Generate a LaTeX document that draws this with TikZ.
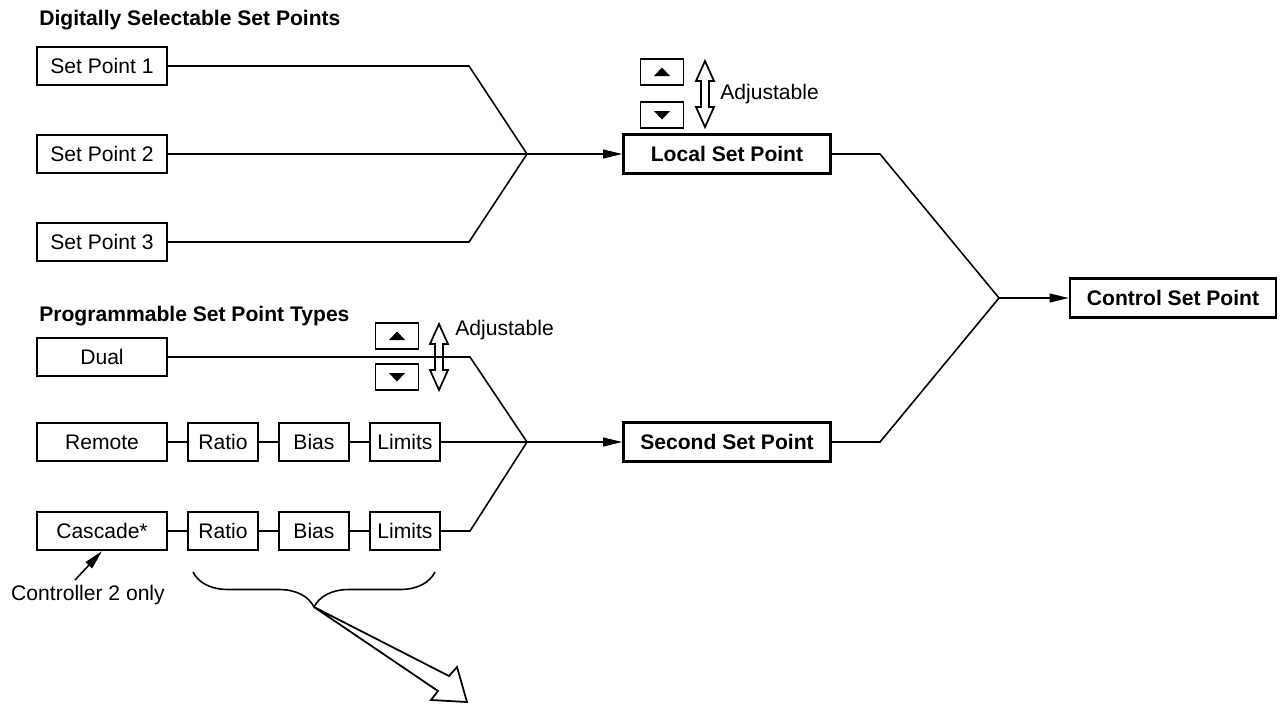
\documentclass[tikz,border=0pt]{standalone}
\usepackage{fontspec}
\setmainfont{Liberation Sans}
\usetikzlibrary{arrows.meta,decorations.pathreplacing}

\newcommand\labelfont{\fontsize{12}{14}\selectfont}

\tikzset{
  box/.style={draw, line width=1.3pt, minimum height=0.76cm, inner sep=2pt},
  spbox/.style={box, minimum width=2.6cm},
  sbox/.style={box, minimum width=1.4cm},
  mainbox/.style={box, minimum width=4.14cm, minimum height=0.78cm, font=\labelfont\bfseries},
  wire/.style={line width=0.9pt},
  feed/.style={wire, -{Triangle[length=11pt,width=5pt]}},
  btn/.style={draw, line width=1.1pt, minimum width=0.86cm, minimum height=0.52cm, inner sep=0pt},
  btnup/.style={btn, path picture={\fill ([shift={(-0.16cm,-0.08cm)}]path picture bounding box.center)
      -- ++(0.32cm,0) -- ++(-0.16cm,0.17cm) -- cycle;}},
  btndown/.style={btn, path picture={\fill ([shift={(-0.16cm,0.08cm)}]path picture bounding box.center)
      -- ++(0.32cm,0) -- ++(-0.16cm,-0.17cm) -- cycle;}},
  adjust/.pic={\draw[line width=1pt] (0,-33) -- (9,-13) -- (4,-13) -- (4,13) -- (9,13) -- (0,33)
      -- (-9,13) -- (-4,13) -- (-4,-13) -- (-9,-13) -- cycle;},
  title/.style={anchor=west, inner sep=0pt, font=\labelfont\bfseries}
}

\begin{document}
\begin{tikzpicture}[x=0.02cm, y=-0.02cm, font=\labelfont]
  \useasboundingbox (0,0) rectangle (1284,704);

  % digital set points
  \node[title] (dtitle) at (39,20) {Digitally Selectable Set Points};
  \node[spbox] (sp1) at (102,66) {Set Point 1};
  \node[spbox] (sp2) at (102,154) {Set Point 2};
  \node[spbox] (sp3) at (102,242) {Set Point 3};
  \coordinate (j1) at (527,154);
  \node[mainbox] (local) at (727,154) {Local Set Point};
  \draw[wire] (sp1.east) -- (469,66) -- (j1);
  \draw[wire] (sp2.east) -- (j1);
  \draw[wire] (sp3.east) -- (469,242) -- (j1);
  \draw[feed] (j1) -- (local.west);

  \node[btnup] (up1) at (662,72) {};
  \node[btndown] (down1) at (662,115) {};
  \pic (adj1) at (705,94) {adjust};
  \node[anchor=west, inner sep=0pt] (adjtext1) at (720,94) {Adjustable};

  % programmable set points
  \node[title] (ptitle) at (39,316) {Programmable Set Point Types};
  \node[spbox] (dual) at (102,357) {Dual};
  \node[spbox] (remote) at (102,442) {Remote};
  \node[sbox] (ratio1) at (223,442) {Ratio};
  \node[sbox] (bias1) at (314,442) {Bias};
  \node[sbox] (limits1) at (405,442) {Limits};
  \node[spbox] (cascade) at (102,531) {Cascade*};
  \node[sbox] (ratio2) at (223,531) {Ratio};
  \node[sbox] (bias2) at (314,531) {Bias};
  \node[sbox] (limits2) at (405,531) {Limits};
  \coordinate (j2) at (527,442);
  \node[mainbox] (second) at (727,442) {Second Set Point};
  \draw[wire] (dual.east) -- (470,357) -- (j2);
  \draw[wire] (remote) -- (ratio1) -- (bias1) -- (limits1) -- (j2);
  \draw[wire] (cascade) -- (ratio2) -- (bias2) -- (limits2) -- (470,531) -- (j2);
  \draw[feed] (j2) -- (second.west);

  \node[btnup] (up2) at (397,336) {};
  \node[btndown] (down2) at (397,377) {};
  \pic (adj2) at (439,357) {adjust};
  \node[anchor=west, inner sep=0pt] (adjtext2) at (455,330) {Adjustable};

  % control set point
  \coordinate (j3) at (999,298);
  \node[mainbox, minimum width=4.12cm] (control) at (1173,298) {Control Set Point};
  \draw[wire] (local.east) -- (880,154) -- (j3);
  \draw[wire] (second.east) -- (880,442) -- (j3);
  \draw[feed] (j3) -- (control.west);

  % notes
  \node (ctrl2) at (88,595) {Controller 2 only};
  \coordinate (c2tail) at (75,580);
  \draw[feed] (c2tail) -- (cascade.south);
  \draw[wire, decorate, decoration={brace, mirror, amplitude=0.7cm}] (193,572) -- (435,572);
  \coordinate (tip) at (314,607);
  \draw[line width=1pt, line join=miter] (tip) -- (449,676) -- (457,667) -- (467,702)
    -- (431,700) -- (438,691) -- cycle;
\end{tikzpicture}
\end{document}
